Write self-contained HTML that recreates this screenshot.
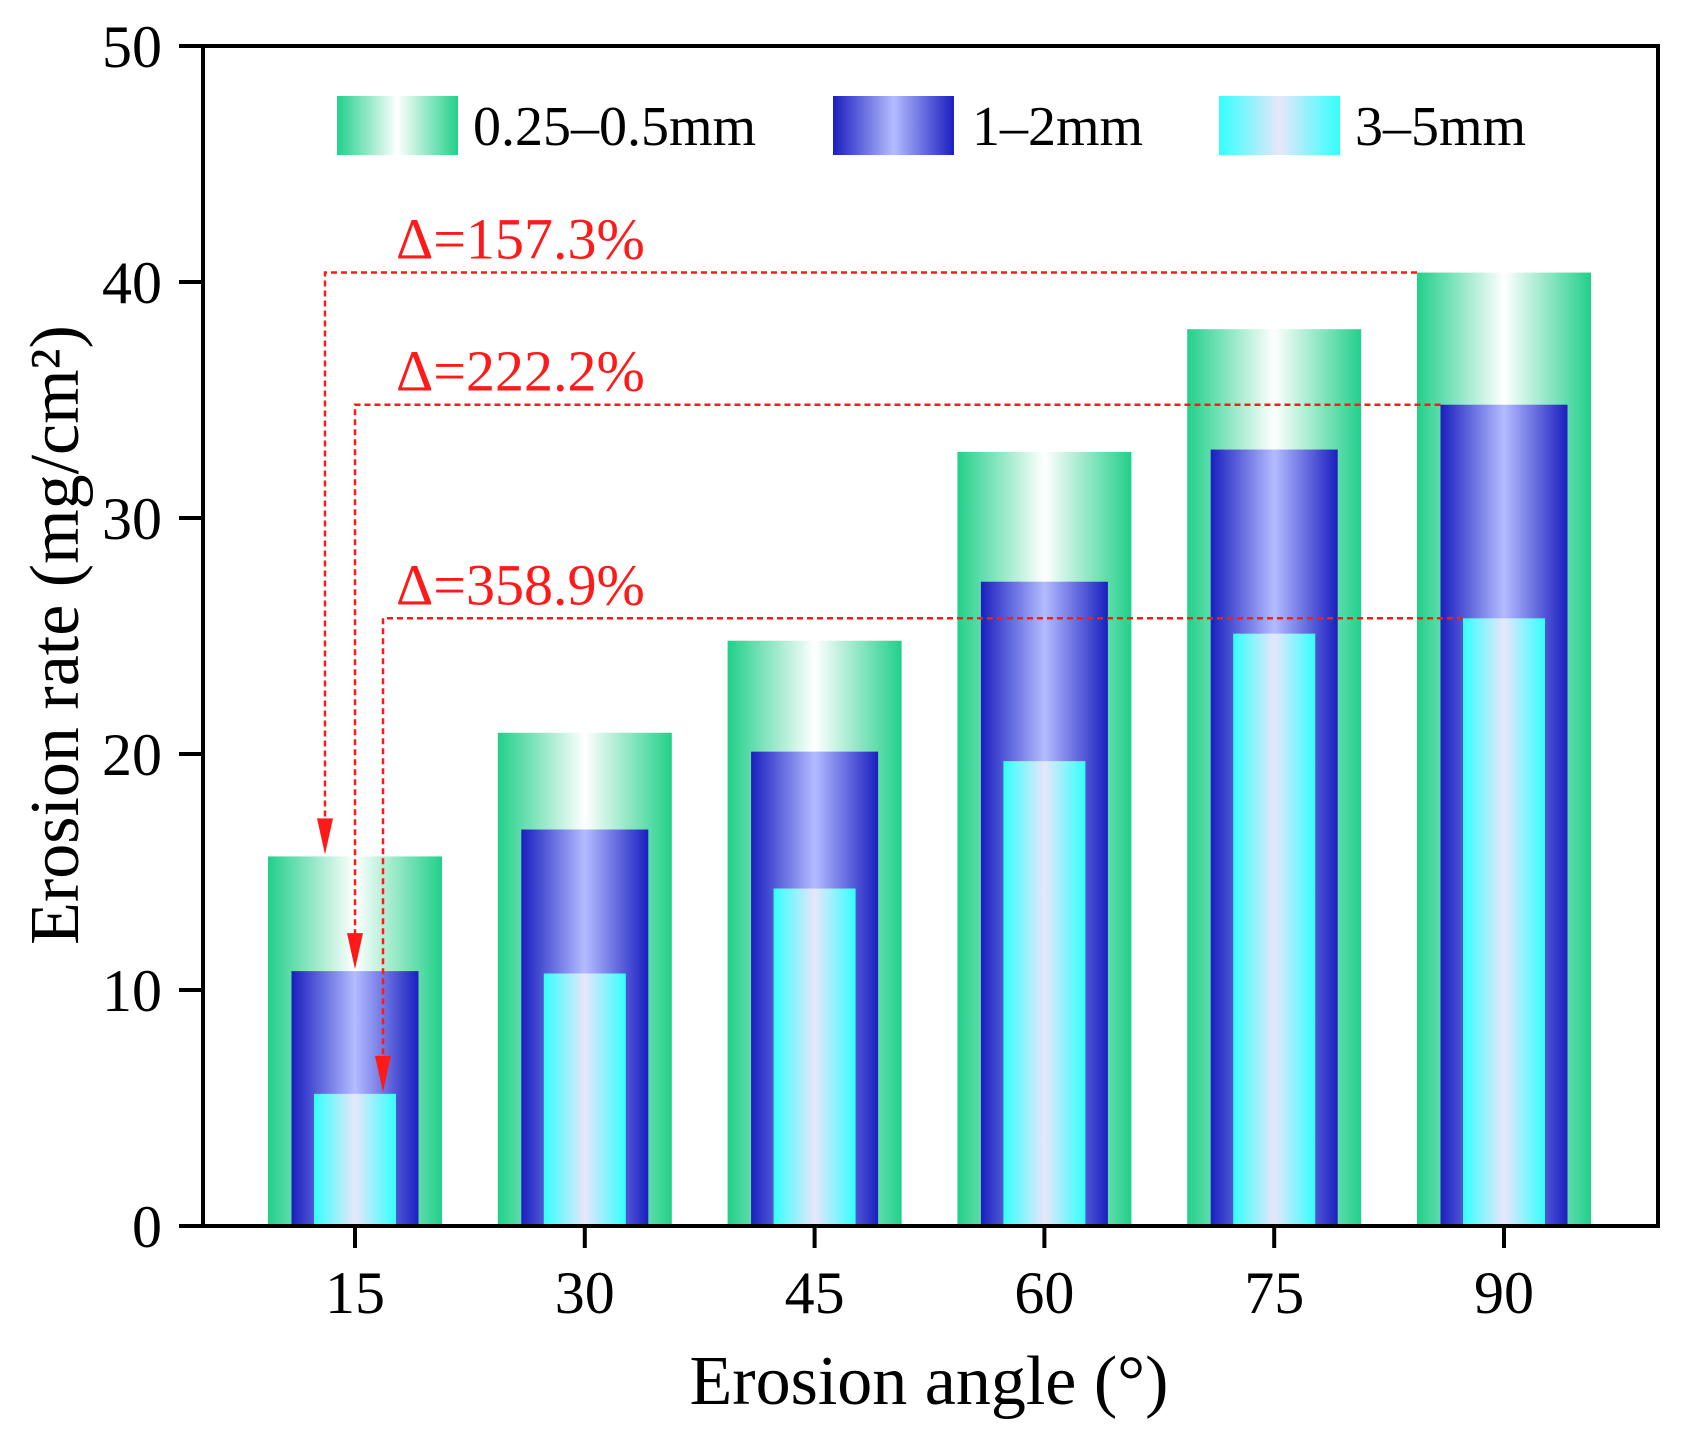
<!DOCTYPE html>
<html><head><meta charset="utf-8"><style>
html,body{margin:0;padding:0;background:#fff}
svg{display:block;font-family:"Liberation Serif","Times New Roman",serif}
</style></head><body>
<svg id="chart" width="1688" height="1437" viewBox="0 0 1688 1437" xmlns="http://www.w3.org/2000/svg">
<defs>
<linearGradient id="gGreen" x1="0" x2="1" y1="0" y2="0"><stop offset="0" stop-color="#22d08a"/><stop offset="0.5" stop-color="#ffffff"/><stop offset="1" stop-color="#22d08a"/></linearGradient>
<linearGradient id="gBlue" x1="0" x2="1" y1="0" y2="0"><stop offset="0" stop-color="#1a1fbf"/><stop offset="0.5" stop-color="#b3bcff"/><stop offset="1" stop-color="#1a1fbf"/></linearGradient>
<linearGradient id="gCyan" x1="0" x2="1" y1="0" y2="0"><stop offset="0" stop-color="#33ffff"/><stop offset="0.5" stop-color="#e8e6fa"/><stop offset="1" stop-color="#33ffff"/></linearGradient>
</defs>
<g id="bars"></g>
<g id="annot"></g>
<g id="axes"></g>
</svg>
<script>
const categories = ["15","30","45","60","75","90"];
const fineValues = [15.66, 20.9, 24.8, 32.8, 38.0, 40.4];
const mediumValues = [10.8, 16.8, 20.1, 27.3, 32.9, 34.8];
const coarseValues = [5.6, 10.7, 14.3, 19.7, 25.1, 25.75];
const yTicks = [0, 10, 20, 30, 40, 50];
const deltaLabels = ["Δ=157.3%", "Δ=222.2%", "Δ=358.9%"];

const NS = "http://www.w3.org/2000/svg";
const L = 203, R = 1658, T = 46, B = 1226;
function yScale(v){ return B - (v / 50) * (B - T); }
function xScale(i){ return 355 + i * 229.8; }
function mk(tag, attrs, parent){ const e = document.createElementNS(NS, tag); for (const k in attrs) e.setAttribute(k, attrs[k]); parent.appendChild(e); return e; }

const bars = document.getElementById('bars');
const annot = document.getElementById('annot');
const axes = document.getElementById('axes');

const series = [
  {vals: fineValues, w: 174, fill: "url(#gGreen)", name: "fine"},
  {vals: mediumValues, w: 127, fill: "url(#gBlue)", name: "medium"},
  {vals: coarseValues, w: 82, fill: "url(#gCyan)", name: "coarse"}
];
series.forEach(s => {
  s.vals.forEach((v, i) => {
    const r = mk('rect', {x: xScale(i) - s.w/2, y: yScale(v), width: s.w, height: B - yScale(v), fill: s.fill}, bars);
    
    
  });
});

const last = categories.length - 1;
const ann = [
  {vals: fineValues, w: 174, dx: -30},
  {vals: mediumValues, w: 127, dx: 0},
  {vals: coarseValues, w: 82, dx: 28}
];
ann.forEach((a, k) => {
  const yl = yScale(a.vals[last]);
  const xs = xScale(0) + a.dx;
  const xe = xScale(last) - a.w/2;
  const yEnd = yScale(a.vals[0]) - 2;
  const p = mk('path', {d: `M${xe},${yl} L${xs},${yl} L${xs},${yEnd - 30}`, fill: 'none', stroke: '#ff1a1a', 'stroke-width': 2.5, 'stroke-dasharray': '6,4'}, annot);
  
  
  const h = mk('polygon', {points: `${xs-8},${yEnd-36} ${xs+8},${yEnd-36} ${xs},${yEnd}`, fill: '#ff1a1a'}, annot);
  
  
  const t = mk('text', {x: 396, y: yl - 14, 'font-size': 58, fill: '#ff1a1a'}, annot);
  t.textContent = deltaLabels[k];
  
  
});

const box = mk('rect', {x: L, y: T, width: R - L, height: B - T, fill: 'none', stroke: '#000', 'stroke-width': 4}, axes);


yTicks.forEach(v => {
  const y = yScale(v);
  const tk = mk('line', {x1: L - 24, x2: L, y1: y, y2: y, stroke: '#000', 'stroke-width': 4}, axes);
  
  
  const t = mk('text', {x: 162, y: y + 21, 'font-size': 60, 'text-anchor': 'end', fill: '#000'}, axes);
  t.textContent = v;
  
  
});
categories.forEach((c, i) => {
  const x = xScale(i);
  const tk = mk('line', {x1: x, x2: x, y1: B, y2: B + 22, stroke: '#000', 'stroke-width': 4}, axes);
  
  
  const t = mk('text', {x: x, y: 1313, 'font-size': 60, 'text-anchor': 'middle', fill: '#000'}, axes);
  t.textContent = c;
  
  
});
const xt = mk('text', {x: 929, y: 1404, 'font-size': 70, 'text-anchor': 'middle', fill: '#000'}, axes);
xt.textContent = 'Erosion angle (°)';


const yt = mk('text', {x: 0, y: 0, 'font-size': 70, 'text-anchor': 'middle', fill: '#000', transform: 'translate(78,635) rotate(-90)'}, axes);
yt.textContent = 'Erosion rate (mg/cm²)';



const legend = [
  {x: 337, fill: 'url(#gGreen)', label: '0.25–0.5mm', tx: 473},
  {x: 833, fill: 'url(#gBlue)', label: '1–2mm', tx: 972},
  {x: 1219, fill: 'url(#gCyan)', label: '3–5mm', tx: 1355}
];
legend.forEach((l, k) => {
  const r = mk('rect', {x: l.x, y: 96, width: 121, height: 59, fill: l.fill}, axes);
  
  
  const t = mk('text', {x: l.tx, y: 145, 'font-size': 56, fill: '#000'}, axes);
  t.textContent = l.label;
  
  
});
</script>
</body></html>
